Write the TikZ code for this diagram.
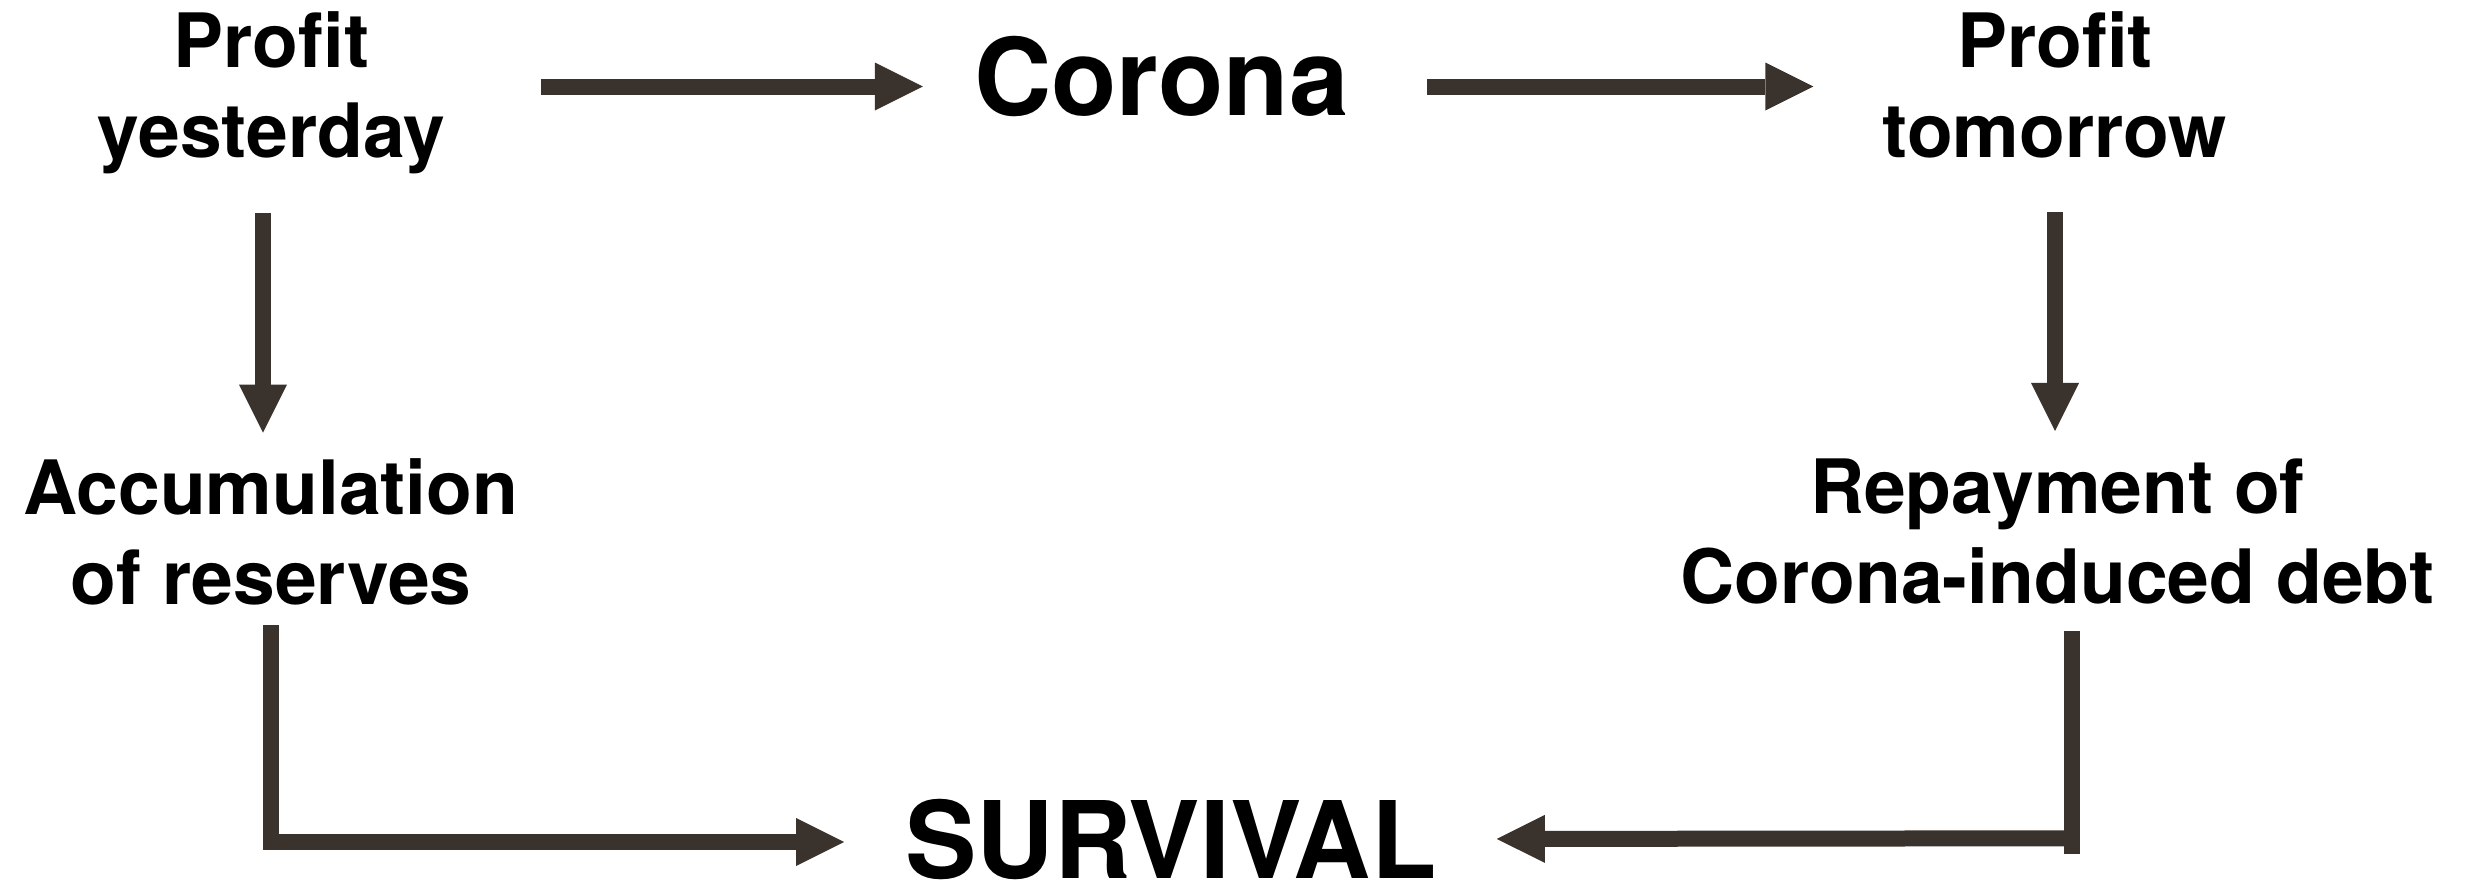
\documentclass[tikz,border=0pt]{standalone}
\usepackage{fontspec}
\setmainfont{TeX Gyre Heros}
\usetikzlibrary{arrows.meta,calc}
\definecolor{ink}{RGB}{58,50,44}
\begin{document}
\begin{tikzpicture}[x=0.5pt,y=-0.5pt,
  lbl/.style={inner sep=0pt, align=center, anchor=base,
    font=\bfseries\fontsize{37.5}{45}\selectfont},
  big/.style={inner sep=0pt, anchor=base,
    font=\bfseries\fontsize{53.5}{60}\selectfont},
  conn/.style={draw=ink, line width=8pt, line join=miter, line cap=butt},
  arr/.style={conn, -{Triangle[length=24pt,width=24pt,line width=0pt]}}]
\useasboundingbox (0,0) rectangle (2476,884);

% labels (base anchor sits on the last line)
\node[lbl] (py)  at (271.5,157)  {Profit\\yesterday};
\node[big] (corona) at (1161.5,115.5) {Corona};
\node[lbl] (pt)  at (2055,157)   {Profit\\tomorrow};
\node[lbl] (acc) at (271,604)    {Accumulation\\of reserves};
\node[lbl] (rep) at (2057.5,603) {Repayment of\\Corona-induced debt};
\node[big] (surv) at (1171,878)  {SURVIVAL};

% top row
\coordinate (row) at ($(corona.west)+(0,10)$);
\draw[arr, shorten <=47.5pt, shorten >=25.5pt] (py.east |- row) -- (row);
\draw[arr, shorten <=39pt, shorten >=34.5pt] (row -| corona.east) -- (row -| pt.west);

% downward arrows
\coordinate (vl) at ($(py.south)+(-8.5,0)$);
\draw[arr, shorten <=19.5pt, shorten >=12.5pt] (vl) -- (vl |- acc.north);
\draw[arr, shorten <=27pt, shorten >=13.5pt] (pt.south) -- (pt.south |- rep.north);

% into SURVIVAL
\coordinate (sl) at ($(surv.west)+(0,3)$);
\draw[arr, shorten <=10pt, shorten >=30.5pt] (acc.south) -- (acc.south |- sl) -- (sl);
\coordinate (rb) at ($(rep.south)+(14.5,250)$);
\draw[conn, shorten <=13.5pt] (rb |- rep.south) -- (rb);
\draw[arr, shorten >=30pt] ($(rb)+(0,-16)$) -- (surv.east);
\end{tikzpicture}
\end{document}
